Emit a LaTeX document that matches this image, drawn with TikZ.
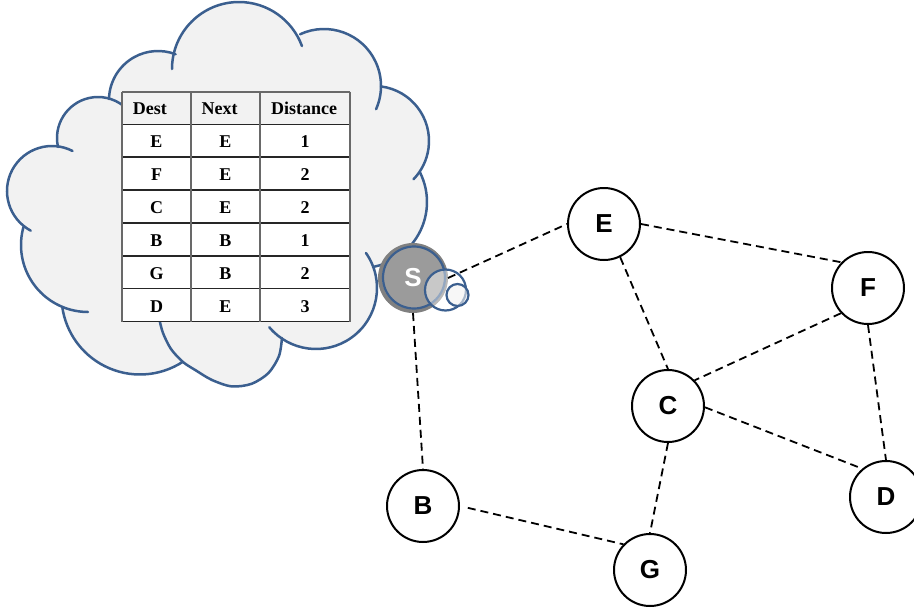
\documentclass[tikz,border=0pt]{standalone}
\usepackage{fontspec}
\usetikzlibrary{calc}
\setmainfont{Liberation Serif}
\newfontfamily\nodefont{Liberation Sans}
\definecolor{cloudblue}{RGB}{59,95,143}
\definecolor{cloudfill}{RGB}{242,242,242}
\definecolor{sgray}{RGB}{155,155,155}
\definecolor{srim}{RGB}{128,128,128}
\definecolor{gridgray}{RGB}{105,105,105}
\begin{document}
\begin{tikzpicture}[x=1pt,y=-1pt,
  cloudline/.style={draw=cloudblue,line width=2.5pt,line cap=round},
  bubble/.style={draw=cloudblue,line width=2.2pt},
  vertex/.style={circle,draw=black,line width=2pt,fill=white,minimum size=72pt,inner sep=0pt,
    font=\nodefont\bfseries\fontsize{26}{28}\selectfont},
  snode/.style={circle,draw=srim,line width=4pt,fill=sgray,minimum size=66pt,inner sep=0pt,
    text=white,font=\nodefont\bfseries\fontsize{26}{28}\selectfont},
  link/.style={draw=black,line width=1.8pt,dash pattern=on 8pt off 5pt},
  cell/.style={inner sep=0pt,anchor=base,font=\bfseries\fontsize{18}{20}\selectfont},
  headcell/.style={cell,anchor=base west},
  rowline/.style={draw=black!85,line width=1.3pt},
  colline/.style={draw=gridgray,line width=1.8pt}]
\useasboundingbox (0,0) rectangle (914,608);

% cloud body: one arc per bump, walked clockwise
\fill[cloudfill]
  ($(98,138)+(167.3:41)$) arc[start angle=167.3,end angle=287,radius=41]
  -- ($(158,100)+(181.2:49)$) arc[start angle=181.2,end angle=291,radius=49]
  -- ($(239,69)+(194.2:67)$) arc[start angle=194.2,end angle=330.2,radius=67]
  -- ($(324,86)+(245.2:57)$) arc[start angle=245.2,end angle=362,radius=57]
  -- ($(374,141)+(277.5:55)$) arc[start angle=277.5,end angle=394,radius=55]
  -- ($(361,202)+(-26.9:66)$) arc[start angle=-26.9,end angle=79.5,radius=66]
  -- ($(316,288)+(-20.2:61)$) arc[start angle=-20.2,end angle=124.2,radius=61]
  -- plot[smooth] coordinates {(282,338) (279,356) (268.5,373) (251.6,383.8) (231.7,386.4) (212,380) (196,370.5) (183,362)}
  -- ($(140,296)+(56.9:78.5)$) arc[start angle=56.9,end angle=171.9,radius=78.5]
  -- ($(88,245)+(112:67)$) arc[start angle=112,end angle=195.5,radius=67]
  -- ($(52,191)+(128.9:45)$) arc[start angle=128.9,end angle=277.8,radius=45]
  -- cycle;

% cloud outline; some bumps run on past their neighbours' junctions
\draw[cloudline] ($(98,138)+(167.3:41)$) arc[start angle=167.3,end angle=307.7,radius=41];
\draw[cloudline] ($(158,100)+(181.2:49)$) arc[start angle=181.2,end angle=291,radius=49];
\draw[cloudline] ($(239,69)+(180:67)$) arc[start angle=180,end angle=340,radius=67];
\draw[cloudline] ($(324,86)+(245.2:57)$) arc[start angle=245.2,end angle=384,radius=57];
\draw[cloudline] ($(374,141)+(277.5:55)$) arc[start angle=277.5,end angle=404,radius=55];
\draw[cloudline] ($(361,202)+(-26.9:66)$) arc[start angle=-26.9,end angle=79.5,radius=66];
\draw[cloudline] ($(316,288)+(-35:61)$) arc[start angle=-35,end angle=140,radius=61];
\draw[cloudline] plot[smooth] coordinates {(282,338) (279,356) (268.5,373) (251.6,383.8) (231.7,386.4) (212,380) (196,370.5) (183,362) (171,349) (163,333) (159,318) (158,312)};
\draw[cloudline] ($(140,296)+(56.9:78.5)$) arc[start angle=56.9,end angle=171.9,radius=78.5];
\draw[cloudline] ($(88,245)+(90:67)$) arc[start angle=90,end angle=195.5,radius=67];
\draw[cloudline] ($(52,191)+(118.2:45)$) arc[start angle=118.2,end angle=297.1,radius=45];

% routing table
\fill[cloudfill] (122.3,91.7) rectangle (350,124.3);
\fill[white] (122.3,124.3) rectangle (350,321.5);
\draw[colline] (122.3,91.7) -- (350,91.7);
\foreach \yy in {124.3,157,190,223,256,288.5,321.5}
  \draw[rowline] (122.3,\yy) -- (350,\yy);
\foreach \xx in {122.3,190.7,260,350}
  \draw[colline] (\xx,91.7) -- (\xx,321.5);
\node[headcell] (hdest) at (132.7,114.3) {Dest};
\node[headcell] (hnext) at (201.5,114.3) {Next};
\node[headcell] (hdist) at (271,114.3) {Distance};
\foreach \dst/\nxt/\dd [count=\i] in {E/E/1,F/E/2,C/E/2,B/B/1,G/B/2,D/E/3}{
  \pgfmathsetmacro\by{124.3+33*(\i-1)+16.5+6.2}
  \node[cell] (dst\i) at (156.5,\by) {\dst};
  \node[cell] (nxt\i) at (225.3,\by) {\nxt};
  \node[cell] (dd\i)  at (305,\by) {\dd};
}

% network nodes
\node[vertex] (E) at (604,224) {E};
\node[vertex] (F) at (868,288) {F};
\node[vertex] (C) at (668,406) {C};
\node[vertex] (D) at (886,497) {D};
\node[vertex] (G) at (650,570) {G};
\node[vertex] (B) at (423,506) {B};
\node[snode] (S) at (413,278) {S};

% thought bubbles around S
\draw[bubble] (414,277.5) circle[radius=31pt];
\draw[bubble,fill=white,fill opacity=0.45] (445.5,290) circle[radius=20.5pt];
\draw[bubble,fill=cloudfill,fill opacity=0.6] (457.5,295) circle[radius=11pt];

% links
\draw[link] (S.east) -- (E.west);
\draw[link] (S.south) -- (B.north);
\draw[link] (E.east) -- (F.136);
\draw[link] (E.-64) -- (C.north);
\draw[link] (F.223) -- (C.44);
\draw[link] (F.south) -- (D.north);
\draw[link] (C.-2) -- (D.130);
\draw[link] (C.south) -- (G.north);
\draw[link,shorten <=8pt] (B.east) -- (G.136);
\end{tikzpicture}
\end{document}
